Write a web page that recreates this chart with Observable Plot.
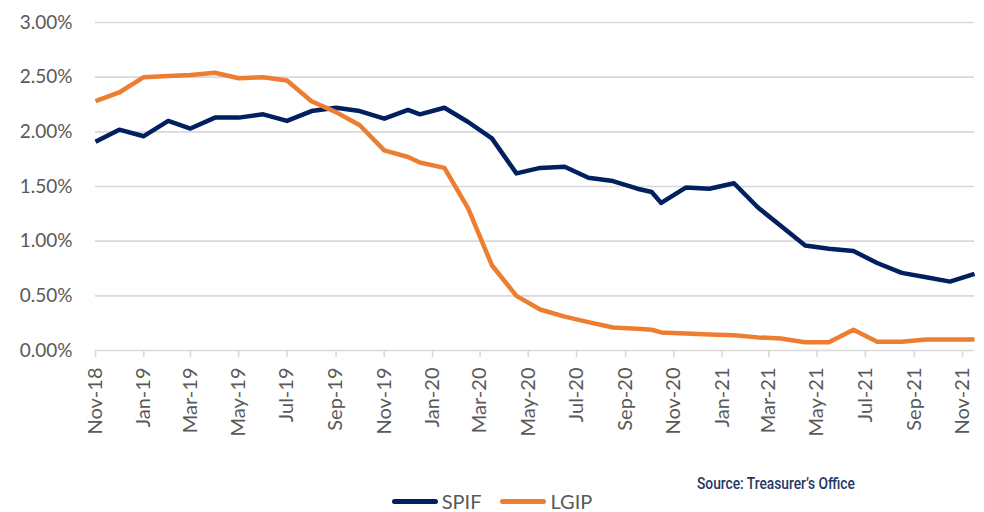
<!DOCTYPE html>
<html>
<head>
<meta charset="utf-8">
<script src="https://cdn.jsdelivr.net/npm/d3@7"></script>
<script src="https://cdn.jsdelivr.net/npm/@observablehq/plot@0.6"></script>
<style>
  html, body { margin: 0; padding: 0; background: #fff; }
  body { width: 984px; height: 512px; position: relative; overflow: hidden; font-family: Lato, "Open Sans", sans-serif; }
  #chart { position: absolute; left: 0; top: 0; }
  #source { position: absolute; left: 697px; top: 474px; line-height: 20px; font-family: Roboto, sans-serif; font-weight: 500; font-size: 16px; color: #1F3864; transform: scaleX(0.86); transform-origin: left center; white-space: nowrap; }
  #legend { position: absolute; left: 0; width: 984px; top: 491px; height: 20px; line-height: 20px; display: flex; justify-content: center; align-items: center; gap: 19px; font-size: 20px; color: #595959; }
  .item { display: flex; align-items: center; gap: 4px; }
  .sw { width: 46px; height: 5px; border-radius: 3px; display: inline-block; }
</style>
</head>
<body>
<div id="chart"></div>
<div id="source">Source: Treasurer’s Office</div>
<div id="legend"></div>
<script>
const dates = [
  "2018-11-01","2018-12-01","2019-01-01","2019-02-01","2019-03-01","2019-04-01","2019-05-01",
  "2019-06-01","2019-07-01","2019-08-01","2019-09-01","2019-10-01","2019-11-01","2019-12-01",
  "2019-12-16","2020-01-16","2020-02-15","2020-03-16","2020-04-16","2020-05-16","2020-06-16",
  "2020-07-16","2020-08-16","2020-09-16","2020-10-04","2020-10-16","2020-11-16","2020-12-16",
  "2021-01-16","2021-02-15","2021-03-16","2021-04-16","2021-05-16","2021-06-16","2021-07-16",
  "2021-08-16","2021-09-16","2021-10-16","2021-11-16"
];
const spif = [
  1.91,2.02,1.96,2.10,2.03,2.13,2.13,2.16,2.10,2.19,2.22,2.19,2.12,2.20,
  2.16,2.22,2.09,1.94,1.62,1.67,1.68,1.58,1.55,1.48,1.45,1.35,1.49,1.48,
  1.53,1.31,1.14,0.96,0.93,0.91,0.80,0.71,0.67,0.63,0.70
];
const lgip = [
  2.28,2.36,2.50,2.51,2.52,2.54,2.49,2.50,2.47,2.28,2.18,2.06,1.83,1.77,
  1.72,1.67,1.30,0.78,0.50,0.375,0.31,0.26,0.21,0.20,0.19,0.165,0.155,0.146,
  0.14,0.12,0.11,0.075,0.075,0.19,0.08,0.08,0.10,0.10,0.10
];
const seriesNames = ["SPIF", "LGIP"];
const seriesColors = ["#002060", "#ED7D31"];
const xTickDates = [
  "2018-11-01","2019-01-01","2019-03-01","2019-05-01","2019-07-01","2019-09-01","2019-11-01",
  "2020-01-01","2020-03-01","2020-05-01","2020-07-01","2020-09-01","2020-11-01",
  "2021-01-01","2021-03-01","2021-05-01","2021-07-01","2021-09-01","2021-11-01"
];
const yTicks = [0, 0.5, 1, 1.5, 2, 2.5, 3];

const parse = d3.utcParse("%Y-%m-%d");
const rows = [];
[spif, lgip].forEach((vals, s) => {
  vals.forEach((v, i) => rows.push({date: parse(dates[i]), value: v, series: seriesNames[s]}));
});

const chart = Plot.plot({
  width: 984,
  height: 470,
  marginLeft: 95,
  marginRight: 10,
  marginTop: 22,
  marginBottom: 120,
  style: {fontFamily: "Lato, 'Open Sans', sans-serif", background: "#fff"},
  x: {type: "utc", domain: [parse(dates[0]), parse(dates[dates.length - 1])]},
  y: {domain: [0, 3]},
  color: {domain: seriesNames, range: seriesColors},
  marks: [
    Plot.gridY(yTicks, {stroke: "#d9d9d9", strokeOpacity: 1, strokeWidth: 1.6}),
    Plot.axisY(yTicks, {tickSize: 0, tickPadding: 23, fontSize: 19, fill: "#595959",
      tickFormat: d => d.toFixed(2) + "%", label: null}),
    Plot.axisX(xTickDates.map(parse), {tickSize: 7, stroke: "#d9d9d9", strokeOpacity: 1, strokeWidth: 1.6,
      tickPadding: 10, tickRotate: -90, fontSize: 20, fill: "#595959",
      tickFormat: d3.utcFormat("%b-%y"), label: null}),
    Plot.line(rows, {x: "date", y: "value", z: "series", stroke: "series",
      strokeWidth: 4.5, strokeLinejoin: "round", strokeLinecap: "butt"})
  ]
});
document.getElementById("chart").appendChild(chart);

const legend = document.getElementById("legend");
seriesNames.forEach((n, i) => {
  const it = document.createElement("div");
  it.className = "item";
  const sw = document.createElement("span");
  sw.className = "sw";
  sw.style.background = seriesColors[i];
  const t = document.createElement("span");
  t.textContent = n;
  it.appendChild(sw);
  it.appendChild(t);
  legend.appendChild(it);
});
</script>
</body>
</html>
